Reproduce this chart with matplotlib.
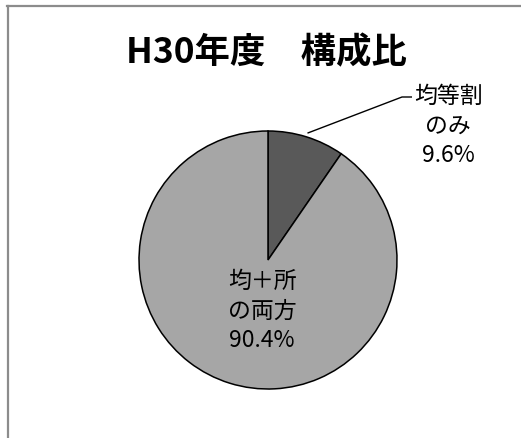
import matplotlib
matplotlib.use("Agg")
import matplotlib.pyplot as plt
from matplotlib.lines import Line2D
import numpy as np

plt.rcParams['font.family'] = ['Noto Sans CJK JP', 'DejaVu Sans']

title = "H30年度　構成比"
categories = ["均等割\nのみ", "均＋所\nの両方"]
values = [9.6, 90.4]
colors = ["#595959", "#a6a6a6"]

W, H = 521, 439
fig = plt.figure(figsize=(W / 100, H / 100), dpi=100)
ax = fig.add_axes([0, 0, 1, 1])

cx, cy, r = 268, H - 261, 129
wedges, _ = ax.pie(values, colors=colors, startangle=90, counterclock=False,
                   center=(cx, cy), radius=r,
                   wedgeprops=dict(edgecolor="black", linewidth=1.1))
ax.set_xlim(0, W)
ax.set_ylim(0, H)
ax.set_aspect("equal")
ax.axis("off")

# Outside label for small slice
lab0 = f"{categories[0]}\n{values[0]:.1f}%"
ax.text(448, H - 126, lab0, ha="center", va="center", fontsize=16.5,
        linespacing=1.35, color="black")
w0 = wedges[0]
mid = np.deg2rad((w0.theta1 + w0.theta2) / 2)
ax.plot([cx + 1.03 * r * np.cos(mid), 402, 412],
        [cy + 1.03 * r * np.sin(mid), H - 98, H - 98],
        color="black", lw=1.0, solid_capstyle="butt")

# Inside label for big slice
lab1 = f"{categories[1]}\n{values[1]:.1f}%"
ax.text(262, H - 311, lab1, ha="center", va="center", fontsize=16.5,
        linespacing=1.35, color="black")

fig.text(266 / W, 1 - 53 / H, title, ha="center", va="center",
         fontsize=25.5, fontweight="bold")

# chart border (partially visible)
fig.add_artist(Line2D([7 / W, 1], [1 - 7 / H, 1 - 7 / H], transform=fig.transFigure,
                      color="#8c8c8c", lw=1.6))
fig.add_artist(Line2D([8 / W, 8 / W], [0, 1 - 7 / H], transform=fig.transFigure,
                      color="#8c8c8c", lw=1.6))

fig.savefig("out.png", dpi=100)
